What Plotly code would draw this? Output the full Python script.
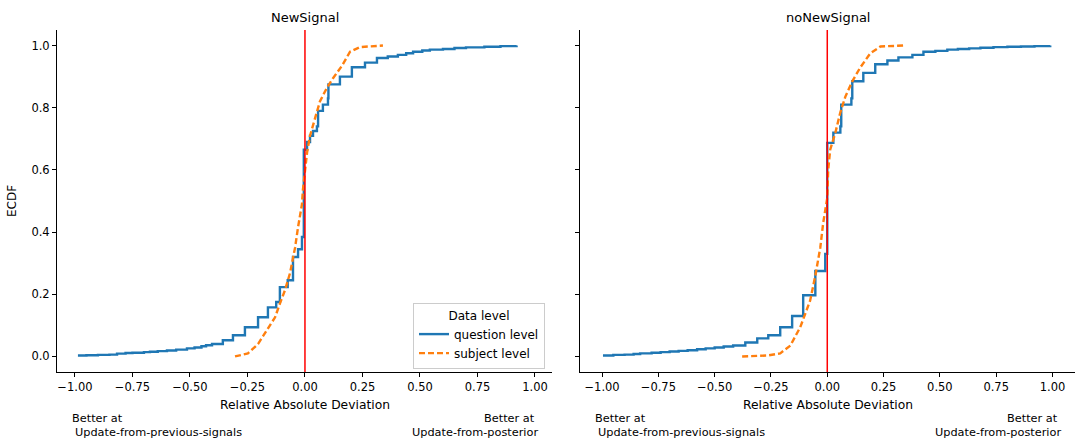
import plotly.graph_objects as go

W, H = 1083, 445
M_TOP, M_BOT = 30, 73
FONT = "DejaVu Sans"
BLUE = "#1f77b4"
ORANGE = "#ff7f0e"

panel_titles = ["NewSignal", "noNewSignal"]
series_names = ["question level", "subject level"]
legend_title = "Data level"

x_ticks = [-1.0, -0.75, -0.5, -0.25, 0.0, 0.25, 0.5, 0.75, 1.0]
y_ticks = [0.0, 0.2, 0.4, 0.6, 0.8, 1.0]

# ECDF of the question-level deviations (value where the curve steps, proportion after the step)
new_question_x = [-0.987, -0.95, -0.90, -0.85, -0.817, -0.78, -0.75, -0.70, -0.674, -0.64,
                  -0.60, -0.56, -0.513, -0.48, -0.45, -0.43, -0.404, -0.357, -0.313, -0.261,
                  -0.204, -0.161, -0.125, -0.109, -0.075, -0.052, -0.030, -0.013, -0.005, 0.009,
                  0.022, 0.035, 0.052, 0.057, 0.078, 0.100, 0.102, 0.152, 0.204, 0.261,
                  0.313, 0.36, 0.404, 0.44, 0.470, 0.51, 0.543, 0.60, 0.65, 0.70,
                  0.78, 0.85, 0.92]
new_question_y = [0.003, 0.004, 0.005, 0.006, 0.009, 0.011, 0.012, 0.014, 0.015, 0.017,
                  0.019, 0.022, 0.026, 0.029, 0.033, 0.036, 0.040, 0.052, 0.068, 0.094,
                  0.126, 0.158, 0.175, 0.223, 0.245, 0.320, 0.345, 0.384, 0.665, 0.690,
                  0.710, 0.725, 0.740, 0.790, 0.810, 0.830, 0.875, 0.900, 0.930, 0.945,
                  0.960, 0.965, 0.970, 0.975, 0.980, 0.984, 0.987, 0.989, 0.992, 0.994,
                  0.996, 0.998, 1.0]

# ECDF of the subject-level deviations
new_subject_x = [-0.304, -0.248, -0.204, -0.165, -0.130, -0.109, -0.087, -0.065, -0.043, -0.030,
                 -0.013, -0.009, 0.0, 0.009, 0.022, 0.043, 0.065, 0.096, 0.122, 0.161,
                 0.196, 0.239, 0.339]
new_subject_y = [0.0, 0.010, 0.040, 0.084, 0.126, 0.170, 0.213, 0.268, 0.350, 0.416,
                 0.490, 0.535, 0.600, 0.655, 0.710, 0.760, 0.820, 0.865, 0.895, 0.935,
                 0.980, 0.995, 1.0]

nonew_question_x = [-0.996, -0.95, -0.90, -0.86, -0.831, -0.78, -0.74, -0.70, -0.66, -0.62,
                    -0.578, -0.54, -0.50, -0.46, -0.418, -0.364, -0.311, -0.262, -0.209, -0.156,
                    -0.107, -0.053, -0.009, 0.0, 0.027, 0.058, 0.062, 0.107, 0.111, 0.160,
                    0.213, 0.267, 0.316, 0.378, 0.427, 0.48, 0.533, 0.58, 0.63, 0.68,
                    0.738, 0.80, 0.86, 0.92, 0.99]
nonew_question_y = [0.003, 0.005, 0.006, 0.008, 0.010, 0.012, 0.014, 0.016, 0.018, 0.020,
                    0.023, 0.026, 0.029, 0.032, 0.035, 0.045, 0.058, 0.068, 0.094, 0.130,
                    0.197, 0.275, 0.330, 0.687, 0.720, 0.740, 0.810, 0.830, 0.885, 0.912,
                    0.940, 0.952, 0.962, 0.970, 0.980, 0.983, 0.987, 0.989, 0.991, 0.993,
                    0.995, 0.996, 0.997, 0.998, 1.0]

nonew_subject_x = [-0.378, -0.267, -0.209, -0.164, -0.120, -0.076, -0.053, -0.031, -0.018, -0.004,
                   0.0, 0.004, 0.013, 0.036, 0.058, 0.080, 0.111, 0.147, 0.191, 0.236, 0.338]
nonew_subject_y = [0.0, 0.003, 0.010, 0.035, 0.094, 0.180, 0.260, 0.350, 0.430, 0.490,
                   0.510, 0.600, 0.665, 0.720, 0.785, 0.835, 0.885, 0.930, 0.975, 0.997, 1.0]

panels = [
    (new_question_x, new_question_y, new_subject_x, new_subject_y),
    (nonew_question_x, nonew_question_y, nonew_subject_x, nonew_subject_y),
]

# axes placement in pixels
axes_px = [(57, 552), (580, 1075)]
x_ranges = [[-1.078, 1.074], [-1.098, 1.100]]
y_range = [-0.05, 1.05]
plot_h = H - M_TOP - M_BOT


def px_x(p):
    return p / W


def px_y(p):
    return (H - M_BOT - p) / plot_h


fig = go.Figure()

for i, (qx, qy, sx, sy) in enumerate(panels):
    xa = "x" if i == 0 else "x2"
    ya = "y" if i == 0 else "y2"
    fig.add_trace(go.Scatter(
        x=qx, y=qy, mode="lines", name=series_names[0], line_shape="hv",
        line=dict(color=BLUE, width=2.4), xaxis=xa, yaxis=ya,
        legendgroup="q", showlegend=(i == 0)))
    fig.add_trace(go.Scatter(
        x=sx, y=sy, mode="lines", name=series_names[1],
        line=dict(color=ORANGE, width=2.4, dash="6px,3px"), xaxis=xa, yaxis=ya,
        legendgroup="s", showlegend=(i == 0)))
    # reference line at zero deviation
    fig.add_shape(type="line", x0=0, x1=0, y0=0, y1=1, xref=xa, yref=f"{ya} domain",
                  line=dict(color="red", width=1.5), layer="above")

axis_common = dict(showgrid=False, zeroline=False, showline=True, linecolor="black",
                   linewidth=1, ticks="outside", ticklen=4, tickwidth=1, tickcolor="black",
                   tickfont=dict(family=FONT, size=11.5, color="black"))

fig.update_layout(
    xaxis=dict(domain=[px_x(axes_px[0][0]), px_x(axes_px[0][1])], range=x_ranges[0],
               tickvals=x_ticks, tickformat=".2f", anchor="y", **axis_common),
    xaxis2=dict(domain=[px_x(axes_px[1][0]), px_x(axes_px[1][1])], range=x_ranges[1],
                tickvals=x_ticks, tickformat=".2f", anchor="y2", **axis_common),
    yaxis=dict(range=y_range, tickvals=y_ticks, tickformat=".1f", anchor="x", **axis_common),
    yaxis2=dict(range=y_range, tickvals=y_ticks, tickformat=".1f", anchor="x2",
                showticklabels=False, **axis_common),
)

annotations = []
for i, title in enumerate(panel_titles):
    x0, x1 = axes_px[i]
    cx = (x0 + x1) / 2
    annotations.append(dict(text=title, x=px_x(cx), y=px_y(17), xref="paper", yref="paper",
                            showarrow=False, font=dict(family=FONT, size=13, color="black"),
                            xanchor="center", yanchor="middle"))
    annotations.append(dict(text="Relative Absolute Deviation", x=px_x(cx), y=px_y(405),
                            xref="paper", yref="paper", showarrow=False,
                            font=dict(family=FONT, size=12.3, color="black"),
                            xanchor="center", yanchor="middle"))
    left_edge = x0 + 13
    right_edge = x1 - 12
    for txt, xp, yp, anc in [("Better at", left_edge, 418, "left"),
                             ("Update-from-previous-signals", left_edge + 3, 432, "left"),
                             ("Better at", right_edge - 3, 418, "right"),
                             ("Update-from-posterior", right_edge, 432, "right")]:
        annotations.append(dict(text=txt, x=px_x(xp), y=px_y(yp), xref="paper", yref="paper",
                                showarrow=False, font=dict(family=FONT, size=11.3, color="black"),
                                xanchor=anc, yanchor="middle"))

annotations.append(dict(text="ECDF", x=px_x(12), y=px_y(201), xref="paper", yref="paper",
                        showarrow=False, textangle=-90,
                        font=dict(family=FONT, size=12, color="black"),
                        xanchor="center", yanchor="middle"))

fig.update_layout(
    width=W, height=H,
    margin=dict(l=0, r=0, t=M_TOP, b=M_BOT),
    plot_bgcolor="white", paper_bgcolor="white",
    font=dict(family=FONT, size=11.5, color="black"),
    annotations=annotations,
    legend=dict(title=dict(text=legend_title, side="top center",
                           font=dict(family=FONT, size=12)),
                x=px_x(545), xanchor="right", y=px_y(369), yanchor="bottom",
                bgcolor="rgba(255,255,255,0.8)", bordercolor="#cccccc", borderwidth=1,
                font=dict(family=FONT, size=12), tracegroupgap=0),
)

fig.write_html("out.html")
